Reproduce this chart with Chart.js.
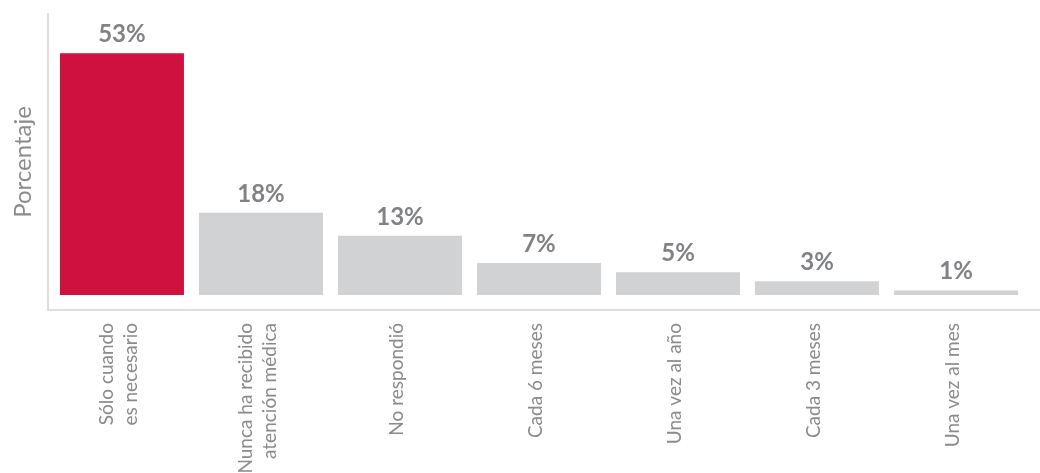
<!DOCTYPE html>
<html lang="es">
<head>
<meta charset="utf-8">
<script src="https://cdn.jsdelivr.net/npm/chart.js@4/dist/chart.umd.min.js"></script>
<style>
  html, body { margin: 0; padding: 0; background: #ffffff; overflow: hidden; }
  #wrap { width: 1040px; height: 473px; }
</style>
</head>
<body>
<div id="wrap"><canvas id="chart" width="1040" height="473"></canvas></div>
<script>
// Frecuencia con la que se acude a atención médica
const categories = [
  ['Sólo cuando', 'es necesario'],
  ['Nunca ha recibido', 'atención médica'],
  'No respondió',
  'Cada 6 meses',
  'Una vez al año',
  'Cada 3 meses',
  'Una vez al mes'
];
const values = [53, 18, 13, 7, 5, 3, 1];
const barColors = ['#cf1140', '#d1d2d4', '#d1d2d4', '#d1d2d4', '#d1d2d4', '#d1d2d4', '#d1d2d4'];
const axisTitle = 'Porcentaje';

const points = values.map((v, i) => ({ x: i, y: v }));

const TICK_SIZE = 19;
const TICK_LINE_HEIGHT = 1.3;

// Etiquetas de porcentaje encima de cada barra
const valueLabels = {
  id: 'valueLabels',
  afterDatasetsDraw(chart) {
    const ctx = chart.ctx;
    const meta = chart.getDatasetMeta(0);
    ctx.save();
    ctx.font = 'bold 24px Lato, "Noto Sans", sans-serif';
    ctx.fillStyle = '#808285';
    ctx.textAlign = 'center';
    ctx.textBaseline = 'alphabetic';
    meta.data.forEach((bar, i) => {
      ctx.fillText(values[i] + '%', bar.x, bar.y - 11);
    });
    ctx.restore();
  }
};

new Chart(document.getElementById('chart'), {
  type: 'bar',
  data: {
    datasets: [{
      data: points,
      backgroundColor: barColors,
      borderWidth: 0,
      barPercentage: 0.892,
      categoryPercentage: 1
    }]
  },
  options: {
    responsive: false,
    animation: false,
    layout: { padding: { top: 14, left: 0, right: 0, bottom: 0 } },
    plugins: { legend: { display: false }, tooltip: { enabled: false } },
    scales: {
      x: {
        type: 'linear',
        offset: false,
        min: -0.532,
        max: 6.604,
        grid: { display: false, drawTicks: false },
        border: { display: true, color: '#dedede', width: 2 },
        // one tick per category; multi-line labels are centred as a block
        afterBuildTicks(scale) {
          const unit = scale.width / (scale.max - scale.min);
          const lh = TICK_SIZE * TICK_LINE_HEIGHT;
          scale.ticks = categories.map((c, i) => {
            const lines = Array.isArray(c) ? c.length : 1;
            const px = (lines - 1) * lh / 2 + 3;
            return { value: i - px / unit };
          });
        },
        ticks: {
          autoSkip: false,
          minRotation: 90,
          maxRotation: 90,
          padding: 13,
          color: '#8a8b8d',
          font: { family: 'Lato, "Noto Sans", sans-serif', size: TICK_SIZE, weight: 'normal', lineHeight: TICK_LINE_HEIGHT },
          callback: (v, i) => categories[i]
        },
        afterFit(scale) { scale.height = 163; }
      },
      y: {
        min: -3.3,
        max: 61.6,
        grid: { display: false, drawTicks: false },
        border: { display: true, color: '#dedede', width: 2 },
        ticks: { display: false },
        title: {
          display: true,
          text: axisTitle,
          color: '#8a8b8d',
          font: { family: 'Lato, "Noto Sans", sans-serif', size: 24, weight: 'normal', lineHeight: 1.2 },
          padding: { top: 9, bottom: 0 }
        },
        afterFit(scale) { scale.width = 48; }
      }
    }
  },
  plugins: [valueLabels]
});
</script>
</body>
</html>
